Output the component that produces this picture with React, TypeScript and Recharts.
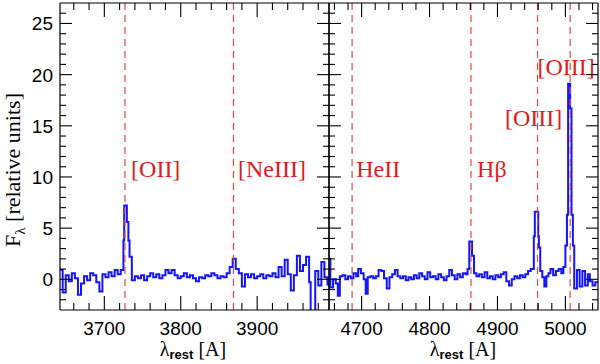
import React from 'react';
import { LineChart, Line, XAxis, YAxis, ReferenceLine, ReferenceDot } from 'recharts';

// ---------- data ----------
const leftWave = [
  3642, 3645.5, 3649.5, 3653.5, 3657.5, 3661.5, 3665.5, 3669.5, 3673.5, 3677.5,
  3681.5, 3685.5, 3689.5, 3693.5, 3697.5, 3701.5, 3705.5, 3709.5, 3713.5, 3717.5,
  3721.5, 3725, 3726, 3729.5, 3731.5, 3733, 3736, 3740, 3744, 3748,
  3752, 3756, 3760, 3764, 3768, 3772, 3776, 3780, 3784, 3788,
  3792, 3796, 3800, 3804, 3808, 3812, 3816, 3820, 3824, 3828,
  3832, 3836, 3840, 3844, 3848, 3852, 3856, 3860, 3864, 3868,
  3872, 3876, 3880, 3884, 3888, 3892, 3896, 3900, 3904, 3908,
  3912, 3916, 3920, 3924, 3928, 3932, 3936, 3940, 3944, 3948,
  3952, 3956, 3960, 3964, 3968, 3970, 3976, 3980, 3984, 3988, 3992,
];
const leftFlux = [
  0.9, -1.3, 0.4, -0.2, 0.6, 0.1, -1.5, -0.4, 0.3, -0.1,
  0.6, 0.4, -0.3, -1.2, 0.5, 0.2, 0.7, 0.3, 0.9, 0.5,
  0.9, 3.8, 7.2, 5.6, 3.8, 2.2, -0.1, 0.3, 0.1, 0.4,
  -0.1, 0.3, 0.6, 0.2, 0.5, 0.1, 0.4, 0.9, 0.6, 0.9,
  0.4, 0.1, 0.3, 0.6, 0.2, 0.4, 0.1, -0.2, 0.2, 0.1,
  0.4, 0.3, 0.6, 0.4, 0.1, 0.3, 0.2, 0.6, 1.2, 2.0,
  1.0, 0.6, -0.7, 0.5, 0.2, 0.5, 0.1, 0.3, 0.5, 0.1,
  0.4, 0.3, 0.6, 0.2, 1.2, 0.3, 1.9, 0.5, -1.1, 0.4,
  2.3, 0.8, 1.4, 2.2, -0.3, -3.5, 0.8, -0.6, 1.7, 0.2, -0.5,
];

const rightWave = [
  4652, 4654, 4658, 4662, 4665, 4668, 4672, 4676, 4680, 4684,
  4688, 4692, 4695, 4699, 4703, 4706, 4709, 4713, 4717, 4721,
  4725, 4729, 4733, 4737, 4741, 4745, 4749, 4753, 4757, 4761,
  4765, 4769, 4773, 4777, 4781, 4785, 4789, 4793, 4797, 4801,
  4805, 4809, 4813, 4817, 4821, 4825, 4829, 4833, 4837, 4841,
  4845, 4849, 4853, 4856, 4858.5, 4862.5, 4865.5, 4869, 4873, 4877,
  4881, 4885, 4889, 4893, 4897, 4901, 4905, 4909, 4913, 4917,
  4921, 4925, 4929, 4933, 4937, 4941, 4945, 4949, 4953.5, 4955,
  4960, 4961, 4963, 4966, 4969, 4972, 4975, 4978, 4982, 4986,
  4990, 4994, 4997, 5000, 5002.3, 5004, 5007, 5009, 5011, 5013,
  5017, 5021, 5025, 5029, 5033, 5036, 5040, 5044,
];
const rightFlux = [
  2.0, -0.8, 0.0, -0.4, -1.6, 0.3, 0.4, 0.0, 0.3, 0.1,
  0.6, 0.3, 1.0, 0.6, 0.0, -1.4, 0.2, 0.3, 0.1, 0.3,
  0.9, 0.8, 0.1, -0.9, 0.2, 0.5, 0.9, 0.3, 0.1, 0.3,
  -0.1, 0.2, 0.0, 0.4, 0.1, 0.6, 0.3, 0.0, 0.7, 0.2,
  0.3, 0.0, 0.5, 0.2, -0.1, 0.3, 0.9, 0.4, 0.0, 0.5,
  0.2, 0.6, 0.5, 1.0, 3.7, 2.3, 0.6, 0.3, 0.5, 0.2,
  0.7, 0.1, 0.3, 0.0, 0.4, 0.2, 0.5, 0.7, -0.2, -0.6,
  0.0, 0.3, 0.1, 0.4, 0.2, 0.5, 0.8, 1.0, 4.2, 6.6,
  4.2, 3.1, 0.8, 0.2, -0.7, 0.3, 0.6, 1.0, 0.4, 0.8,
  1.0, 0.6, 1.2, 3.3, 6.3, 19.1, 16.7, 6.3, 3.3, -0.9,
  0.9, -0.7, 0.8, -0.6, 0.5, -0.2, -0.6, -0.3,
];

const leftDomain = [3642, 3994];
const rightDomain = [4652, 5048];
const yDomain = [-3, 27];

const xMajorStep = 100;
const xMinorStep = 20;
const yMajorStep = 5;
const yMinorStep = 1;

const leftLines = [3727, 3869];
const rightLines = [4686, 4861, 4959, 5007];

const leftLabels = ['[OII]', '[NeIII]'];
const leftLabelX = [3735, 3875];
const leftLabelY = [10, 10];
const rightLabels = ['HeII', 'Hβ', '[OIII]', '[OIII]'];
const rightLabelX = [4692, 4870, 4911, 4959];
const rightLabelY = [10, 10, 15, 20];

// ---------- helpers ----------
const makeTicks = (lo: number, hi: number, step: number) => {
  const out: number[] = [];
  for (let v = Math.ceil(lo / step) * step; v <= hi; v += step) out.push(v);
  return out;
};
const makeData = (w: number[], f: number[], end: number) => {
  const d = w.map((x, i) => ({ x, y: f[i] }));
  d.push({ x: end, y: f[f.length - 1] });
  return d;
};

const leftData = makeData(leftWave, leftFlux, leftDomain[1]);
const rightData = makeData(rightWave, rightFlux, rightDomain[1]);
const leftXTicks = makeTicks(leftDomain[0], leftDomain[1], xMinorStep);
const rightXTicks = makeTicks(rightDomain[0], rightDomain[1], xMinorStep);
const yTicks = makeTicks(yDomain[0] + 1, yDomain[1] - 1, yMinorStep);

const SANS = 'Liberation Sans, Arial, Helvetica, sans-serif';
const SERIF = 'Liberation Serif, Times New Roman, serif';
const RED = '#e41a1c';
const DASH = '#e04848';
const BLUE = '#1414ff';
const AX = '#000';

const BottomTick = (props: any) => {
  const { x, y, payload } = props;
  const v = payload.value;
  const major = v % xMajorStep === 0;
  return (
    <g>
      <line x1={x} x2={x} y1={y} y2={y - (major ? 14 : 7)} stroke={AX} strokeWidth={1.1} />
      {major && (
        <text x={x} y={y + 25} textAnchor="middle" fontFamily={SANS} fontSize={19} fill="#000">
          {v}
        </text>
      )}
    </g>
  );
};
const TopTick = (props: any) => {
  const { x, y, payload } = props;
  const major = payload.value % xMajorStep === 0;
  return <line x1={x} x2={x} y1={y} y2={y + (major ? 14 : 7)} stroke={AX} strokeWidth={1.1} />;
};
const makeSideTick = (dir: number, withLabel: boolean) => (props: any) => {
  const { x, y, payload } = props;
  const v = payload.value;
  const major = v % yMajorStep === 0;
  return (
    <g>
      <line x1={x} x2={x + dir * (major ? 12 : 6)} y1={y} y2={y} stroke={AX} strokeWidth={1.1} />
      {withLabel && major && (
        <text x={x - 7} y={y + 7} textAnchor="end" fontFamily={SANS} fontSize={19} fill="#000">
          {v}
        </text>
      )}
    </g>
  );
};
const LeftLabelTick = makeSideTick(1, true);
const LeftPlainTick = makeSideTick(1, false);
const RightPlainTick = makeSideTick(-1, false);

const makeLabelShape = (text: string) => (p: any) => (
  <text x={p.cx} y={p.cy} fontFamily={SERIF} fontSize={24} fill={RED}>
    {text}
  </text>
);

const Panel = ({
  data,
  domain,
  ticks,
  lines,
  labels,
  labelX,
  labelY,
  marginLeft,
  marginRight,
  showYLabels,
}: any) => (
  <div style={{ position: 'absolute', left: 0, top: 0 }}>
    <LineChart
      width={600}
      height={364}
      data={data}
      margin={{ top: 2, right: marginRight - 1, bottom: 53, left: marginLeft - 1 }}
    >
      <XAxis
        dataKey="x"
        type="number"
        domain={domain}
        allowDataOverflow
        ticks={ticks}
        interval={0}
        height={1}
        tickSize={0}
        tickMargin={0}
        tickLine={false}
        axisLine={{ stroke: AX, strokeWidth: 1.2 }}
        tick={<BottomTick />}
      />
      <XAxis
        xAxisId="top"
        orientation="top"
        dataKey="x"
        type="number"
        domain={domain}
        allowDataOverflow
        ticks={ticks}
        interval={0}
        height={1}
        tickSize={0}
        tickMargin={0}
        tickLine={false}
        axisLine={{ stroke: AX, strokeWidth: 1.2 }}
        tick={<TopTick />}
      />
      <YAxis
        yAxisId="left"
        type="number"
        domain={yDomain}
        allowDataOverflow
        ticks={yTicks}
        interval={0}
        width={1}
        tickSize={0}
        tickMargin={0}
        tickLine={false}
        axisLine={{ stroke: AX, strokeWidth: 1.2 }}
        tick={showYLabels ? <LeftLabelTick /> : <LeftPlainTick />}
      />
      <YAxis
        yAxisId="right"
        orientation="right"
        type="number"
        domain={yDomain}
        allowDataOverflow
        ticks={yTicks}
        interval={0}
        width={1}
        tickSize={0}
        tickMargin={0}
        tickLine={false}
        axisLine={{ stroke: AX, strokeWidth: 1.2 }}
        tick={<RightPlainTick />}
      />
      <Line
        yAxisId="left"
        type="stepAfter"
        dataKey="y"
        stroke={BLUE}
        strokeWidth={2}
        dot={false}
        isAnimationActive={false}
      />
      {lines.map((lx: number) => (
        <ReferenceLine
          key={lx}
          yAxisId="left"
          x={lx}
          stroke={DASH}
          strokeWidth={1.2}
          strokeDasharray="7 5"
        />
      ))}
      {labels.map((t: string, i: number) => (
        <ReferenceDot
          key={t + i}
          yAxisId="left"
          x={labelX[i]}
          y={labelY[i]}
          r={0}
          shape={makeLabelShape(t)}
        />
      ))}
    </LineChart>
  </div>
);

export default function App() {
  return (
    <div style={{ position: 'absolute', left: 0, top: 0, width: 600, height: 364, background: '#fff' }}>
      <Panel
        data={leftData}
        domain={leftDomain}
        ticks={leftXTicks}
        lines={leftLines}
        labels={leftLabels}
        labelX={leftLabelX}
        labelY={leftLabelY}
        marginLeft={60}
        marginRight={271}
        showYLabels
      />
      <Panel
        data={rightData}
        domain={rightDomain}
        ticks={rightXTicks}
        lines={rightLines}
        labels={rightLabels}
        labelX={rightLabelX}
        labelY={rightLabelY}
        marginLeft={329}
        marginRight={2}
        showYLabels={false}
      />
      <svg
        width={600}
        height={364}
        style={{ position: 'absolute', left: 0, top: 0, pointerEvents: 'none' }}
      >
        <text
          transform="translate(20,170) rotate(-90)"
          textAnchor="middle"
          fontFamily={SERIF}
          fontSize={22}
          fill="#000"
        >
          F
          <tspan fontSize={15} dy={5}>λ</tspan>
          <tspan dy={-5}> [relative units]</tspan>
        </text>
        {[193, 463].map((cx) => (
          <text key={cx} x={cx} y={356} textAnchor="middle" fontFamily={SERIF} fontSize={20} fill="#000">
            λ
            <tspan fontSize={13} fontWeight="bold" fontFamily={SANS} dy={3}>rest</tspan>
            <tspan dy={-3}> [A]</tspan>
          </text>
        ))}
      </svg>
    </div>
  );
}
